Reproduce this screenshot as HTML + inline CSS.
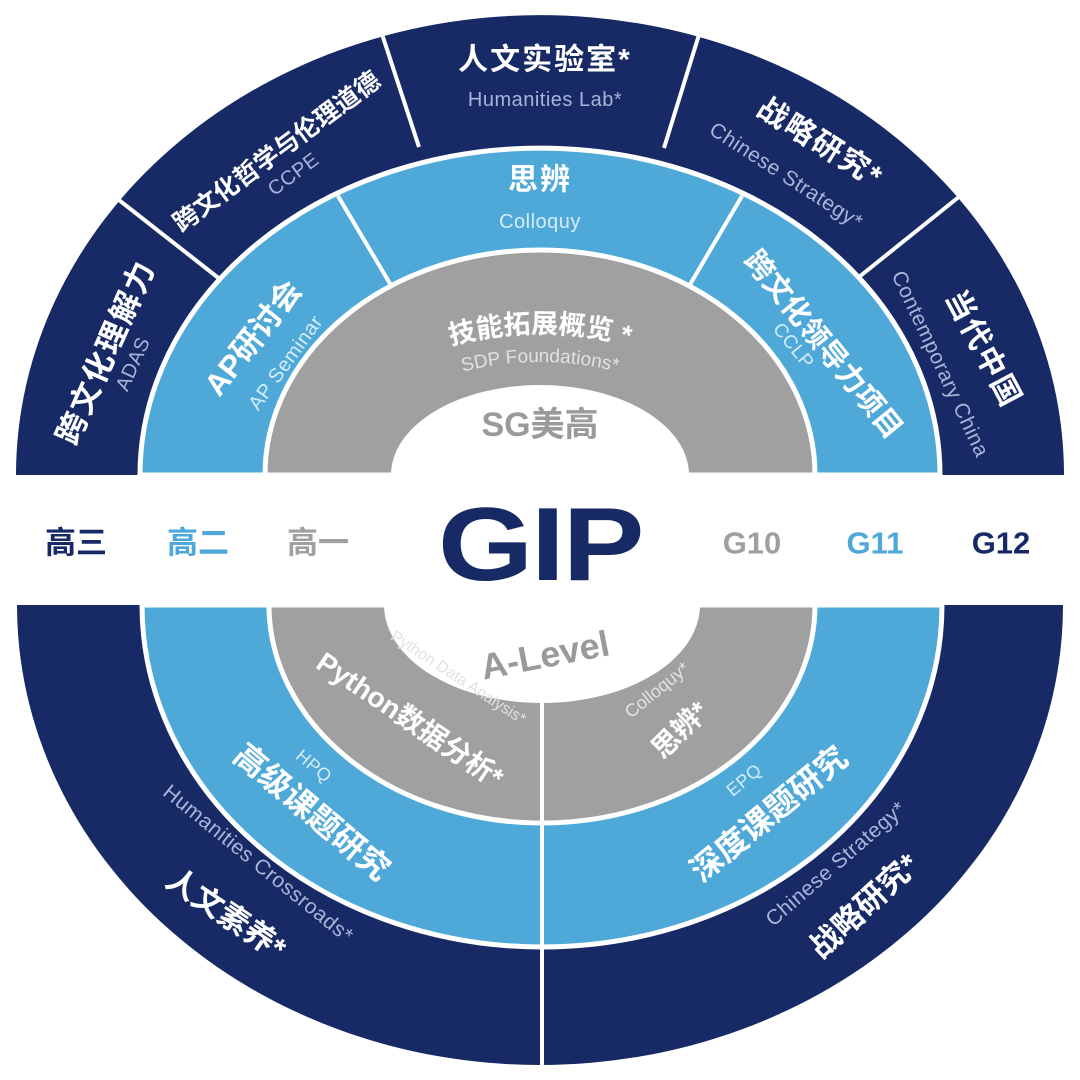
<!DOCTYPE html>
<html><head><meta charset="utf-8"><style>
html,body{margin:0;padding:0;background:#fff;}
svg{display:block;}
text{font-family:"Liberation Sans","Noto Sans CJK SC",sans-serif;}
.m{font-weight:bold;fill:#fff;text-anchor:middle;dominant-baseline:central;}
.s{fill:#aab4d9;text-anchor:middle;dominant-baseline:central;letter-spacing:0.5px;}
.sl{fill:#d6ecf8;text-anchor:middle;dominant-baseline:central;letter-spacing:0.5px;}
.sg{fill:#e2e2e2;text-anchor:middle;dominant-baseline:central;}
</style></head><body>
<svg width="1080" height="1080" viewBox="0 0 1080 1080" xmlns="http://www.w3.org/2000/svg">
<defs>
<path id="p1" d="M320,475 A220 142 0 0 1 760,475"/>
<path id="p2" d="M350,475 A190 113 0 0 1 730,475"/>
</defs>
<!-- TOP -->
<path d="M16,475 A524 460 0 0 1 1064,475 Z" fill="#172a66"/>
<g stroke="#fff" stroke-width="4">
<line x1="221" y1="280" x2="110" y2="193"/>
<line x1="419" y1="147" x2="379" y2="25"/>
<line x1="664" y1="148" x2="702" y2="25"/>
<line x1="859" y1="277" x2="965" y2="192"/>
</g>
<path d="M140,475 A400 327 0 0 1 940,475 Z" fill="#4ea9d9" stroke="#fff" stroke-width="5"/>
<g stroke="#fff" stroke-width="4">
<line x1="395" y1="292" x2="338" y2="196"/>
<line x1="685" y1="293" x2="742" y2="196"/>
</g>
<path d="M265,475 A275 225 0 0 1 815,475 Z" fill="#a0a0a0" stroke="#fff" stroke-width="5"/>
<path d="M391,475 A149 90 0 0 1 689,475 Z" fill="#fff"/>
<rect x="0" y="475" width="1080" height="130" fill="#fff"/>

<!-- BOTTOM -->
<path d="M17,605 A523 460 0 0 0 1063,605 Z" fill="#172a66"/>
<path d="M142,605 A400 342 0 0 0 942,605 Z" fill="#4ea9d9" stroke="#fff" stroke-width="5"/>
<path d="M269,605 A273 218 0 0 0 815,605 Z" fill="#a0a0a0" stroke="#fff" stroke-width="5"/>
<path d="M384,605 A158 98 0 0 0 700,605 Z" fill="#fff"/>
<line x1="542" y1="703" x2="542" y2="1070" stroke="#fff" stroke-width="4"/>

<!-- band labels -->
<g font-weight="bold" font-size="31" text-anchor="middle" dominant-baseline="central">
<text x="76" y="543" fill="#172a66">高三</text>
<text x="198" y="543" fill="#4ea9d9">高二</text>
<text x="318" y="543" fill="#a0a0a0">高一</text>
<text x="752" y="543" fill="#a0a0a0">G10</text>
<text x="875" y="543" fill="#4ea9d9">G11</text>
<text x="1001" y="543" fill="#172a66">G12</text>
</g>
<g transform="translate(540,545) scale(1.18,1)"><text x="0" y="0" font-size="104" font-weight="bold" fill="#172a66" text-anchor="middle" dominant-baseline="central" letter-spacing="-2">GIP</text></g>

<!-- top dark -->
<g transform="translate(106,352) rotate(-66)"><text class="m" font-size="31" letter-spacing="2">跨文化理解力</text><text class="s" y="30" font-size="20">ADAS</text></g>
<g transform="translate(277,152) rotate(-36.5)"><text class="m" font-size="25">跨文化哲学与伦理道德</text><text class="s" y="28" font-size="20">CCPE</text></g>
<text class="m" x="545" y="60" font-size="30" letter-spacing="2">人文实验室*</text>
<text class="s" x="545" y="100" font-size="20">Humanities Lab*</text>
<g transform="translate(820,143) rotate(32)"><text class="m" font-size="30" letter-spacing="2">战略研究*</text></g>
<g transform="translate(786,176) rotate(33)"><text class="s" font-size="21">Chinese Strategy*</text></g>
<g transform="translate(983,349) rotate(62)"><text class="m" font-size="30" letter-spacing="2">当代中国</text></g>
<g transform="translate(940,364) rotate(65)"><text class="s" font-size="21">Contemporary China</text></g>

<!-- top light -->
<g transform="translate(253,338) rotate(-52)"><text class="m" font-size="31">AP研讨会</text></g>
<g transform="translate(286,363) rotate(-54)"><text class="sl" font-size="20">AP Seminar</text></g>
<text class="m" x="540" y="180" font-size="30" letter-spacing="2">思辨</text>
<text class="sl" x="540" y="222" font-size="20">Colloquy</text>
<g transform="translate(823,345) rotate(51)"><text class="m" font-size="29">跨文化领导力项目</text><text class="sl" y="24" x="-18" font-size="19">CCLP</text></g>

<!-- top gray -->
<text font-size="27" font-weight="bold" fill="#fff" text-anchor="middle"><textPath href="#p1" startOffset="50%">技能拓展概览 *</textPath></text>
<text font-size="19" fill="#e2e2e2" text-anchor="middle"><textPath href="#p2" startOffset="50%">SDP Foundations*</textPath></text>
<text x="540" y="425" font-size="34" font-weight="bold" fill="#9a9a9a" text-anchor="middle" dominant-baseline="central">SG美高</text>

<!-- bottom gray -->
<g transform="translate(545,655) rotate(-11)"><text font-size="36" font-weight="bold" fill="#9a9a9a" text-anchor="middle" dominant-baseline="central">A-Level</text></g>
<g transform="translate(458,678) rotate(33)"><text class="sg" font-size="16">Python Data Analysis*</text></g>
<g transform="translate(410,720) rotate(34)"><text class="m" font-size="28">Python数据分析*</text></g>
<g transform="translate(657,690) rotate(-39)"><text class="sg" font-size="18">Colloquy*</text></g>
<g transform="translate(680,730) rotate(-45)"><text class="m" font-size="28">思辨*</text></g>

<!-- bottom light -->
<g transform="translate(314,766) rotate(40)"><text class="sl" font-size="18">HPQ</text></g>
<g transform="translate(312,812) rotate(40)"><text class="m" font-size="32">高级课题研究</text></g>
<g transform="translate(744,780) rotate(-40)"><text class="sl" font-size="18">EPQ</text></g>
<g transform="translate(769,814) rotate(-39.5)"><text class="m" font-size="32">深度课题研究</text></g>

<!-- bottom dark -->
<g transform="translate(258,864) rotate(39)"><text class="s" font-size="21">Humanities Crossroads*</text></g>
<g transform="translate(226,914) rotate(34)"><text class="m" font-size="31">人文素养*</text></g>
<g transform="translate(836,864) rotate(-41)"><text class="s" font-size="21">Chinese Strategy*</text></g>
<g transform="translate(864,906) rotate(-43)"><text class="m" font-size="31">战略研究*</text></g>
</svg>
</body></html>
